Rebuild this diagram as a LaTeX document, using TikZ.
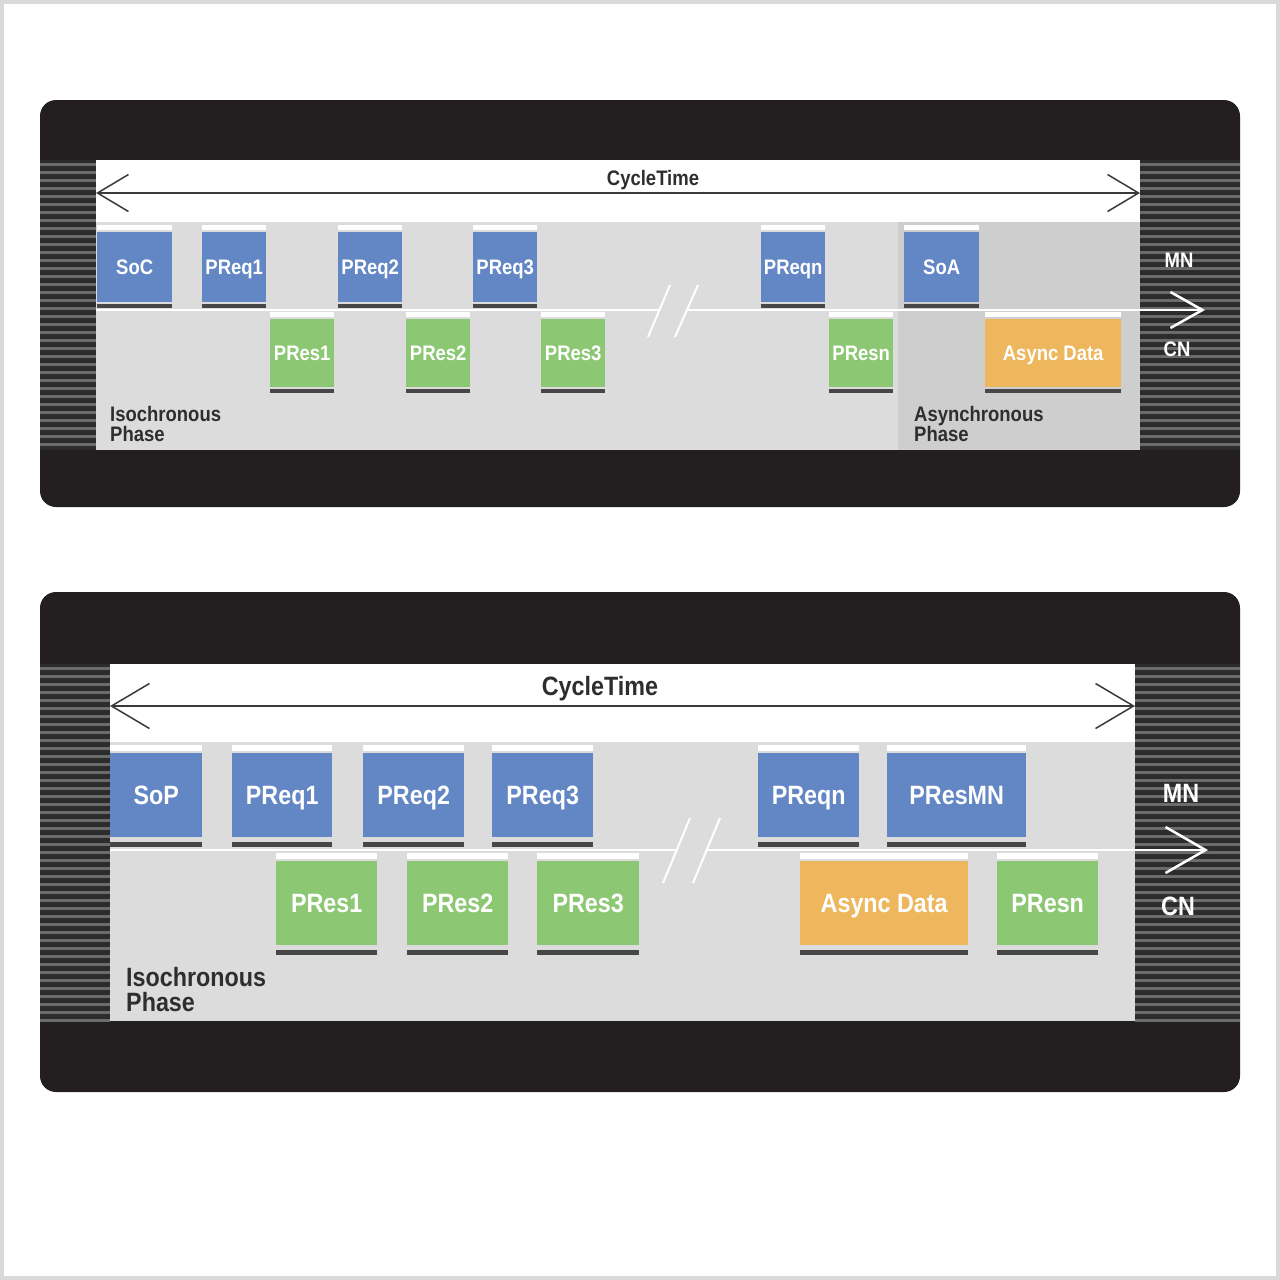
\documentclass[tikz,border=0pt]{standalone}
\usepackage{fontspec}
\setmainfont{Liberation Sans}[FakeStretch=0.88]
\usetikzlibrary{arrows.meta}
\definecolor{framec}{HTML}{D9D9D9}
\definecolor{panelblack}{HTML}{231F20}
\definecolor{stripebase}{HTML}{2C2C2C}
\definecolor{stripeline}{HTML}{6B6B6B}
\definecolor{isogray}{HTML}{DCDCDC}
\definecolor{asyncgray}{HTML}{CECECE}
\definecolor{blkblue}{HTML}{6386C5}
\definecolor{blkgreen}{HTML}{8CC873}
\definecolor{blkorange}{HTML}{EEB75E}
\definecolor{darkstrip}{HTML}{474747}
\definecolor{cyclec}{HTML}{3A3A3A}
\definecolor{labelc}{HTML}{2E2E2E}
\begin{document}
\begin{tikzpicture}[x=1pt,y=-1pt,
  stripe/.style={draw=stripeline, line width=3pt},
  cyclearrow/.style={draw=cyclec, line width=1.5pt},
  mnline/.style={draw=white, line width=2.5pt},
  blkA/.style={inner sep=0pt, anchor=north west, text=white, minimum height=70pt,
     font=\fontsize{21}{21}\selectfont\bfseries, text height=15pt, text depth=0pt},
  blkB/.style={inner sep=0pt, anchor=north west, text=white, minimum height=84pt,
     font=\fontsize{26.5}{26.5}\selectfont\bfseries, text height=19pt, text depth=0pt},
  ctlabA/.style={inner sep=0pt, text=labelc, font=\fontsize{21}{21}\selectfont\bfseries},
  ctlabB/.style={inner sep=0pt, text=labelc, font=\fontsize{26.5}{26.5}\selectfont\bfseries},
  phaseA/.style={inner sep=0pt, anchor=west, align=left, text=labelc, font=\fontsize{21}{20}\selectfont\bfseries},
  phaseB/.style={inner sep=0pt, anchor=west, align=left, text=labelc, font=\fontsize{26.5}{25}\selectfont\bfseries},
  mnlabA/.style={inner sep=0pt, text=white, font=\fontsize{21}{21}\selectfont\bfseries},
  mnlabB/.style={inner sep=0pt, text=white, font=\fontsize{26.5}{26.5}\selectfont\bfseries}
]
\useasboundingbox (0,0) rectangle (1280,1280);
\fill[white] (0,0) rectangle (1280,1280);
\draw[framec, line width=4pt] (2,2) rectangle (1278,1278);

% ================= Panel 1 =================
\fill[panelblack, rounded corners=16pt] (40,100) rectangle (1240,507);
\fill[stripebase] (40,160) rectangle (96,450);
\fill[stripebase] (1140,160) rectangle (1240,450);
\foreach \y in {164,172,...,448} {
  \draw[stripe] (40,\y) -- (96,\y);
  \draw[stripe] (1140,\y) -- (1240,\y);
}
\fill[white] (96,160) rectangle (1140,222);
\fill[isogray] (96,222) rectangle (1140,450);
\fill[asyncgray] (898,222) rectangle (1140,450);

\coordinate (ct1L) at (96,193);
\coordinate (ct1R) at (1140,193);
\draw[cyclearrow, {Straight Barb[length=31pt,width=37pt]}-{Straight Barb[length=31pt,width=37pt]}] (ct1L) -- (ct1R);
\node[ctlabA] (ct1) at (653,180) {CycleTime};

\coordinate (mn1L) at (96,310);
\coordinate (br1a) at (659,310);
\coordinate (br1b) at (687,310);
\coordinate (mn1R) at (1205,310);
\draw[mnline] (mn1L) -- (br1a);
\draw[mnline, -{Straight Barb[length=32pt,width=36pt]}] (br1b) -- (mn1R);
\draw[mnline, line width=2pt] (670,285) -- (648,337);
\draw[mnline, line width=2pt] (698,285) -- (675,337);

\node[blkA, fill=blkblue, minimum width=75pt] (soc) at (97,232) {SoC};
\node[blkA, fill=blkblue, minimum width=64pt] (preqA1) at (202,232) {PReq1};
\node[blkA, fill=blkblue, minimum width=64pt] (preqA2) at (338,232) {PReq2};
\node[blkA, fill=blkblue, minimum width=64pt] (preqA3) at (473,232) {PReq3};
\node[blkA, fill=blkblue, minimum width=64pt] (preqAn) at (761,232) {PReqn};
\node[blkA, fill=blkblue, minimum width=75pt] (soa) at (904,232) {SoA};
\node[blkA, fill=blkgreen, minimum width=64pt, minimum height=68pt] (presA1) at (270,319) {PRes1};
\node[blkA, fill=blkgreen, minimum width=64pt, minimum height=68pt] (presA2) at (406,319) {PRes2};
\node[blkA, fill=blkgreen, minimum width=64pt, minimum height=68pt] (presA3) at (541,319) {PRes3};
\node[blkA, fill=blkgreen, minimum width=64pt, minimum height=68pt] (presAn) at (829,319) {PResn};
\node[blkA, fill=blkorange, minimum width=136pt, minimum height=68pt] (asyncA) at (985,319) {Async Data};
\foreach \n in {soc,preqA1,preqA2,preqA3,preqAn,soa,presA1,presA2,presA3,presAn,asyncA} {
  \fill[white] ([yshift=2pt]\n.north west) rectangle ([yshift=7pt]\n.north east);
  \fill[darkstrip] ([yshift=-2pt]\n.south west) rectangle ([yshift=-6pt]\n.south east);
}

\node[phaseA] (iso1) at (110,424) {Isochronous\\Phase};
\node[phaseA] (asy1) at (914,424) {Asynchronous\\Phase};
\node[mnlabA] (mnA) at (1179,260) {MN};
\node[mnlabA] (cnA) at (1177,349) {CN};

% ================= Panel 2 =================
\fill[panelblack, rounded corners=16pt] (40,592) rectangle (1240,1092);
\fill[stripebase] (40,664) rectangle (110,1021);
\fill[stripebase] (1135,664) rectangle (1240,1021);
\foreach \y in {668,676,...,1020} {
  \draw[stripe] (40,\y) -- (110,\y);
  \draw[stripe] (1135,\y) -- (1240,\y);
}
\fill[white] (110,664) rectangle (1135,742);
\fill[isogray] (110,742) rectangle (1135,1021);

\coordinate (ct2L) at (110,706);
\coordinate (ct2R) at (1135,706);
\draw[cyclearrow, {Straight Barb[length=38pt,width=45pt]}-{Straight Barb[length=38pt,width=45pt]}] (ct2L) -- (ct2R);
\node[ctlabB] (ct2) at (600,689) {CycleTime};

\coordinate (mn2L) at (110,850);
\coordinate (br2a) at (677,850);
\coordinate (br2b) at (707,850);
\coordinate (mn2R) at (1208,850);
\draw[mnline] (mn2L) -- (br2a);
\draw[mnline, -{Straight Barb[length=40pt,width=46pt]}] (br2b) -- (mn2R);
\draw[mnline, line width=2pt] (690,818) -- (663,883);
\draw[mnline, line width=2pt] (720,818) -- (693,883);

\node[blkB, fill=blkblue, minimum width=92pt] (sop) at (110,753) {SoP};
\node[blkB, fill=blkblue, minimum width=100pt] (preqB1) at (232,753) {PReq1};
\node[blkB, fill=blkblue, minimum width=101pt] (preqB2) at (363,753) {PReq2};
\node[blkB, fill=blkblue, minimum width=101pt] (preqB3) at (492,753) {PReq3};
\node[blkB, fill=blkblue, minimum width=101pt] (preqBn) at (758,753) {PReqn};
\node[blkB, fill=blkblue, minimum width=139pt] (presmn) at (887,753) {PResMN};
\node[blkB, fill=blkgreen, minimum width=101pt] (presB1) at (276,861) {PRes1};
\node[blkB, fill=blkgreen, minimum width=101pt] (presB2) at (407,861) {PRes2};
\node[blkB, fill=blkgreen, minimum width=102pt] (presB3) at (537,861) {PRes3};
\node[blkB, fill=blkorange, minimum width=168pt] (asyncB) at (800,861) {Async Data};
\node[blkB, fill=blkgreen, minimum width=101pt] (presBn) at (997,861) {PResn};
\foreach \n in {sop,preqB1,preqB2,preqB3,preqBn,presmn,presB1,presB2,presB3,asyncB,presBn} {
  \fill[white] ([yshift=2pt]\n.north west) rectangle ([yshift=8pt]\n.north east);
  \fill[darkstrip] ([yshift=-5pt]\n.south west) rectangle ([yshift=-10pt]\n.south east);
}

\node[phaseB] (iso2) at (126,990) {Isochronous\\Phase};
\node[mnlabB] (mnB) at (1181,793) {MN};
\node[mnlabB] (cnB) at (1178,906) {CN};
\end{tikzpicture}
\end{document}
